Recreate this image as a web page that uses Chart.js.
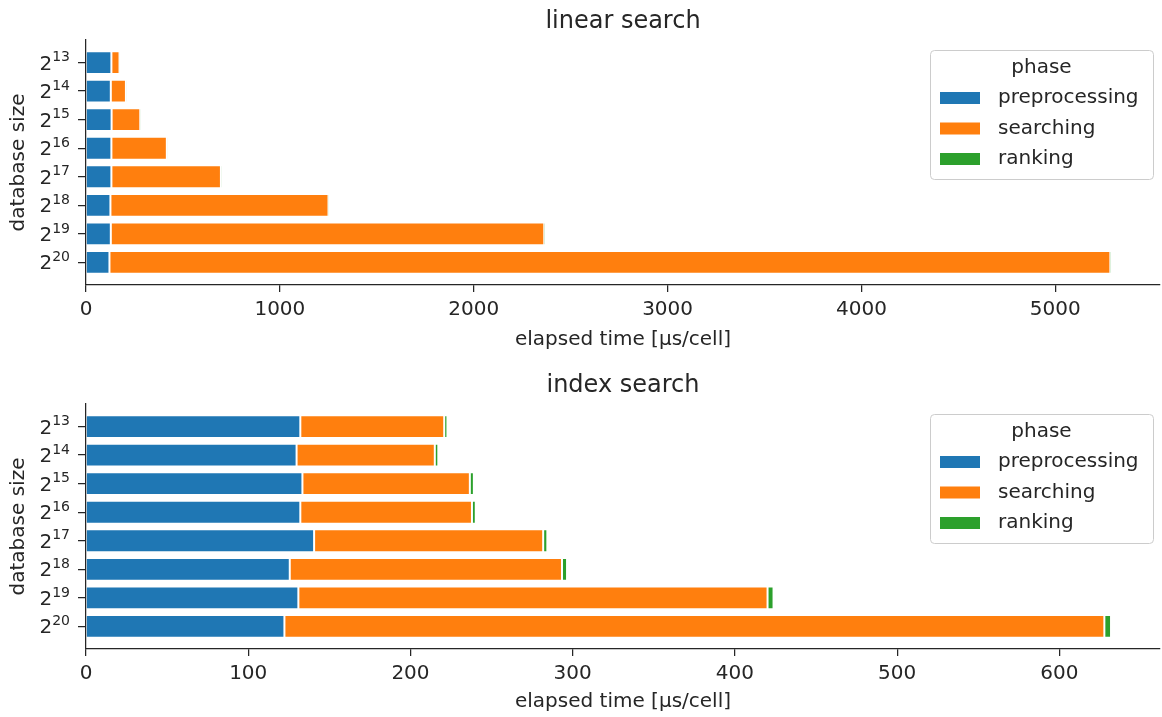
<!DOCTYPE html>
<html>
<head>
<meta charset="utf-8">
<script src="https://cdn.jsdelivr.net/npm/chart.js@4/dist/chart.umd.min.js"></script>
<style>
html, body { margin: 0; padding: 0; background: #fff; }
canvas { display: block; }
</style>
</head>
<body>
<canvas id="chartLinear" width="1162" height="360"></canvas>
<canvas id="chartIndex" width="1162" height="357"></canvas>
<script>
// database sizes, top to bottom (base^exponent)
const sizes = ['2^13', '2^14', '2^15', '2^16', '2^17', '2^18', '2^19', '2^20']
const phases = ['preprocessing', 'searching', 'ranking']

// linear search, µs/cell per phase
const linearPreprocessing = [131, 128, 132, 131, 131, 126, 128, 121]
const linearSearching = [42, 78, 148, 286, 565, 1125, 2236, 5163]
const linearRanking = [1.5, 1.7, 1.9, 1.8, 2.1, 2.6, 3.2, 3.6]
const linearTicks = [0, 1000, 2000, 3000, 4000, 5000]

// index search, µs/cell per phase
const indexPreprocessing = [132.1, 129.8, 133.4, 132.1, 140.6, 125.6, 130.9, 122.3]
const indexSearching = [88.7, 85.2, 103.2, 105.8, 141.2, 167.8, 289.2, 505.4]
const indexRanking = [1.5, 1.7, 1.9, 1.8, 2.1, 2.6, 3.2, 3.6]
const indexTicks = [0, 100, 200, 300, 400, 500, 600]

const phaseColors = ['#1f77b4', '#ff7f0e', '#2ca02c']
const textColor = '#262626'
const fontFamily = '"DejaVu Sans", sans-serif'

const decorPlugin = {
    id: 'decor',
    afterDatasetsDraw(chart, args, opts) {
        const { ctx, chartArea } = chart
        ctx.save()
        ctx.fillStyle = textColor
        ctx.font = '24px ' + fontFamily
        ctx.textAlign = 'center'
        ctx.textBaseline = 'alphabetic'
        ctx.fillText(opts.title, (chartArea.left + chartArea.right) / 2, chartArea.top - 11.7)

        // y tick labels with raised exponent, like mathtext
        const yScale = chart.scales.y
        ctx.textAlign = 'left'
        yScale.getLabels().forEach((lab, i) => {
            const [base, exp] = lab.split('^')
            const y = yScale.getPixelForTick(i)
            ctx.font = '20px ' + fontFamily
            const wb = ctx.measureText(base).width
            ctx.font = '14px ' + fontFamily
            const we = ctx.measureText(exp).width
            const x0 = chartArea.left - 16 - wb - we
            ctx.font = '20px ' + fontFamily
            ctx.fillText(base, x0, y + 7)
            ctx.font = '14px ' + fontFamily
            ctx.fillText(exp, x0 + wb, y - 1.3)
        })

        // legend box
        const bx = chartArea.right - 230
        const by = chartArea.top + 10
        const bw = 223
        const bh = 129
        ctx.beginPath()
        ctx.roundRect(bx + 0.5, by + 0.5, bw, bh, 4)
        ctx.fillStyle = 'rgba(255,255,255,0.8)'
        ctx.fill()
        ctx.strokeStyle = '#cccccc'
        ctx.lineWidth = 1
        ctx.stroke()

        ctx.font = '20px ' + fontFamily
        ctx.textAlign = 'center'
        ctx.textBaseline = 'middle'
        ctx.fillStyle = textColor
        ctx.fillText('phase', bx + bw / 2, by + 18)
        ctx.textAlign = 'left'
        chart.data.datasets.forEach((ds, i) => {
            const y = by + 48 + i * 30.5
            ctx.fillStyle = ds.backgroundColor
            ctx.fillRect(bx + 10, y - 6, 40, 12)
            ctx.fillStyle = textColor
            ctx.fillText(ds.label, bx + 68, y)
        })
        ctx.restore()
    }
}

function makeConfig(title, pre, search, rank, xTicks, xMax, topPad, xHeight, xTitlePad) {
    return {
        type: 'bar',
        data: {
            labels: sizes,
            datasets: [
                {
                    label: phases[0],
                    data: pre,
                    backgroundColor: phaseColors[0],
                    borderColor: '#ffffff',
                    borderWidth: { left: 0, right: 1, top: 1, bottom: 1 },
                    borderSkipped: false
                },
                {
                    label: phases[1],
                    data: search,
                    backgroundColor: phaseColors[1],
                    borderColor: '#ffffff',
                    borderWidth: 1,
                    borderSkipped: false
                },
                {
                    label: phases[2],
                    data: rank,
                    backgroundColor: phaseColors[2],
                    borderColor: '#ffffff',
                    borderWidth: { left: 1, right: 0, top: 1, bottom: 1 },
                    borderSkipped: false
                }
            ]
        },
        options: {
            responsive: false,
            animation: false,
            indexAxis: 'y',
            categoryPercentage: 1,
            barPercentage: 0.8,
            layout: { padding: { top: topPad, right: 2, left: 0, bottom: 0 } },
            plugins: {
                legend: { display: false },
                tooltip: { enabled: false },
                decor: { title: title }
            },
            scales: {
                x: {
                    type: 'linear',
                    stacked: true,
                    min: 0,
                    max: xMax,
                    ticks: {
                        maxRotation: 0,
                        autoSkip: false,
                        padding: 6,
                        color: textColor,
                        font: { family: fontFamily, size: 20 },
                        callback: v => String(v)
                    },
                    grid: { drawOnChartArea: false, tickLength: 7, color: textColor, lineWidth: 1.25 },
                    border: { color: textColor, width: 1.25 },
                    title: {
                        display: true,
                        text: 'elapsed time [µs/cell]',
                        color: textColor,
                        font: { family: fontFamily, size: 20 },
                        padding: { top: 0, bottom: xTitlePad }
                    },
                    afterBuildTicks: s => { s.ticks = xTicks.map(v => ({ value: v })) },
                    afterFit: s => { s.height = xHeight }
                },
                y: {
                    type: 'category',
                    stacked: true,
                    offset: true,
                    ticks: { display: false },
                    grid: { offset: false, drawOnChartArea: false, tickLength: 8, color: textColor, lineWidth: 1.25 },
                    border: { color: textColor, width: 1.25 },
                    title: {
                        display: true,
                        text: 'database size',
                        color: textColor,
                        font: { family: fontFamily, size: 20 },
                        padding: { top: 7, bottom: 0 }
                    },
                    afterFit: s => { s.width = 86 },
                    // matplotlib-like margins around the bars
                    afterBuildTicks: s => {
                        s._startValue = -0.79
                        s._valueRange = 8.58
                    }
                }
            }
        },
        plugins: [decorPlugin]
    }
}

let chartLinear = new Chart(
    document.getElementById('chartLinear'),
    makeConfig('linear search', linearPreprocessing, linearSearching, linearRanking, linearTicks, 5540, 40, 75, 8)
)

let chartIndex = new Chart(
    document.getElementById('chartIndex'),
    makeConfig('index search', indexPreprocessing, indexSearching, indexRanking, indexTicks, 662, 44, 68, 3.5)
)
</script>
</body>
</html>
